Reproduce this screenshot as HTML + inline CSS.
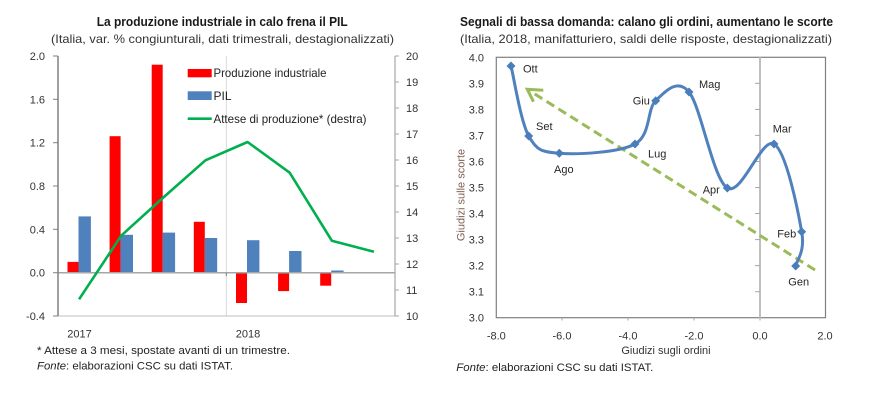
<!DOCTYPE html>
<html><head><meta charset="utf-8"><style>
html,body{margin:0;padding:0;background:#fff;}
svg{display:block;font-family:"Liberation Sans",Arial,sans-serif;}
</style></head><body>
<svg width="888" height="405" viewBox="0 0 888 405" xmlns="http://www.w3.org/2000/svg">
<rect width="888" height="405" fill="#fff"/>
<!-- LEFT CHART -->
<text x="96.7" y="26" font-size="13" font-weight="bold" fill="#1a1a1a" textLength="251" lengthAdjust="spacingAndGlyphs">La produzione industriale in calo frena il PIL</text>
<text x="51" y="43" font-size="12" fill="#333" textLength="343" lengthAdjust="spacingAndGlyphs">(Italia, var. % congiunturali, dati trimestrali, destagionalizzati)</text>
<!-- gridline 2018 -->
<line x1="226.3" y1="56" x2="226.3" y2="316" stroke="#d9d9d9" stroke-width="1"/>
<!-- bars red -->
<g fill="#ff0000">
<rect x="67.5" y="261.9" width="11" height="10.8"/>
<rect x="109.6" y="136.2" width="11" height="136.5"/>
<rect x="151.7" y="64.7" width="11" height="208"/>
<rect x="193.8" y="221.8" width="11" height="50.9"/>
<rect x="236" y="272.7" width="11" height="30.3"/>
<rect x="278.1" y="272.7" width="11" height="18.4"/>
<rect x="320.2" y="272.7" width="11" height="13"/>
</g>
<g fill="#4f81bd">
<rect x="78.5" y="216.4" width="12.4" height="56.3"/>
<rect x="120.6" y="234.8" width="12.4" height="37.9"/>
<rect x="162.7" y="232.6" width="12.4" height="40.1"/>
<rect x="204.8" y="238" width="12.4" height="34.7"/>
<rect x="247" y="240.2" width="12.4" height="32.5"/>
<rect x="289.1" y="251" width="12.4" height="21.7"/>
<rect x="331.2" y="270.5" width="12.4" height="2.2"/>
</g>
<!-- axes -->
<line x1="58" y1="272.7" x2="395" y2="272.7" stroke="#a6a6a6" stroke-width="1.5"/>
<line x1="226.3" y1="272.7" x2="226.3" y2="276" stroke="#808080" stroke-width="1"/>
<line x1="58" y1="316" x2="395" y2="316" stroke="#bfbfbf" stroke-width="1"/>
<line x1="58" y1="56" x2="58" y2="316" stroke="#808080" stroke-width="1.5"/>
<line x1="395" y1="56" x2="395" y2="316" stroke="#a6a6a6" stroke-width="1.2"/>
<g stroke="#808080" stroke-width="1">
<line x1="53" y1="56" x2="58" y2="56"/><line x1="53" y1="99.3" x2="58" y2="99.3"/><line x1="53" y1="142.7" x2="58" y2="142.7"/><line x1="53" y1="186" x2="58" y2="186"/><line x1="53" y1="229.3" x2="58" y2="229.3"/><line x1="53" y1="272.7" x2="58" y2="272.7"/><line x1="53" y1="316" x2="58" y2="316"/>
</g>
<g stroke="#a6a6a6" stroke-width="1">
<line x1="395" y1="56" x2="399" y2="56"/><line x1="395" y1="82" x2="399" y2="82"/><line x1="395" y1="108" x2="399" y2="108"/><line x1="395" y1="134" x2="399" y2="134"/><line x1="395" y1="160" x2="399" y2="160"/><line x1="395" y1="186" x2="399" y2="186"/><line x1="395" y1="212" x2="399" y2="212"/><line x1="395" y1="238" x2="399" y2="238"/><line x1="395" y1="264" x2="399" y2="264"/><line x1="395" y1="290" x2="399" y2="290"/><line x1="395" y1="316" x2="399" y2="316"/>
</g>
<!-- green line -->
<polyline points="79.06,299.3 121.19,235.7 163.31,197.5 205.44,160.3 247.56,142 289.69,172.7 331.81,240.7 373.94,251.7" fill="none" stroke="#00b050" stroke-width="2.6" stroke-linejoin="round"/>
<!-- left tick labels -->
<g font-size="11" fill="#333" text-anchor="end">
<text x="45" y="60">2.0</text><text x="45" y="103.3">1.6</text><text x="45" y="146.7">1.2</text><text x="45" y="190">0.8</text><text x="45" y="233.3">0.4</text><text x="45" y="276.7">0.0</text><text x="45" y="320">-0.4</text>
</g>
<g font-size="11" fill="#333">
<text x="406" y="60">20</text><text x="406" y="86">19</text><text x="406" y="112">18</text><text x="406" y="138">17</text><text x="406" y="164">16</text><text x="406" y="190">15</text><text x="406" y="216">14</text><text x="406" y="242">13</text><text x="406" y="268">12</text><text x="406" y="294">11</text><text x="406" y="320">10</text>
</g>
<g font-size="11" fill="#333" text-anchor="middle">
<text x="79.5" y="337.5">2017</text><text x="248" y="337.5">2018</text>
</g>
<!-- legend -->
<rect x="187.7" y="69" width="24" height="8.3" fill="#ff0000"/>
<text x="213.5" y="77" font-size="12" fill="#222" textLength="113" lengthAdjust="spacingAndGlyphs">Produzione  industriale</text>
<rect x="187.7" y="91.3" width="24" height="8.7" fill="#4f81bd"/>
<text x="213.5" y="100" font-size="12" fill="#222">PIL</text>
<line x1="187.7" y1="118.7" x2="211.7" y2="118.7" stroke="#00b050" stroke-width="2.6"/>
<text x="213.5" y="123" font-size="12" fill="#222" textLength="153" lengthAdjust="spacingAndGlyphs">Attese di produzione*  (destra)</text>
<!-- footnotes -->
<text x="37" y="354" font-size="11" fill="#222" textLength="253" lengthAdjust="spacingAndGlyphs">* Attese a 3 mesi, spostate avanti di un trimestre.</text>
<text x="37" y="369.3" font-size="11" fill="#222" textLength="196" lengthAdjust="spacingAndGlyphs"><tspan font-style="italic">Fonte</tspan>: elaborazioni  CSC su dati ISTAT.</text>

<!-- RIGHT CHART -->
<text x="460" y="26" font-size="13" font-weight="bold" fill="#1a1a1a" textLength="373" lengthAdjust="spacingAndGlyphs">Segnali di bassa domanda: calano gli ordini, aumentano le scorte</text>
<text x="460" y="43" font-size="12" fill="#333" textLength="372" lengthAdjust="spacingAndGlyphs">(Italia, 2018, manifatturiero, saldi delle risposte, destagionalizzati)</text>
<!-- frame -->
<rect x="496.3" y="57.3" width="329.2" height="260.4" fill="none" stroke="#808080" stroke-width="1.2"/>
<line x1="760" y1="57.3" x2="760" y2="317.7" stroke="#bfbfbf" stroke-width="2"/>
<g stroke="#a6a6a6" stroke-width="1">
<line x1="755" y1="83.3" x2="760" y2="83.3"/><line x1="755" y1="109.4" x2="760" y2="109.4"/><line x1="755" y1="135.4" x2="760" y2="135.4"/><line x1="755" y1="161.5" x2="760" y2="161.5"/><line x1="755" y1="187.5" x2="760" y2="187.5"/><line x1="755" y1="213.5" x2="760" y2="213.5"/><line x1="755" y1="239.6" x2="760" y2="239.6"/><line x1="755" y1="265.6" x2="760" y2="265.6"/><line x1="755" y1="291.7" x2="760" y2="291.7"/>
<line x1="562" y1="317.7" x2="562" y2="320.5"/><line x1="628" y1="317.7" x2="628" y2="320.5"/><line x1="694" y1="317.7" x2="694" y2="320.5"/><line x1="760" y1="317.7" x2="760" y2="320.5"/>
</g>
<!-- arrow -->
<line x1="815" y1="270" x2="530" y2="91" stroke="#9bbb59" stroke-width="3" stroke-dasharray="9,5"/>
<polyline points="543.3,90.3 527.3,89.3 533.5,101.7" fill="none" stroke="#9bbb59" stroke-width="3" stroke-linejoin="miter"/>
<!-- spline -->
<path d="M795.7,266 C796.7,260.28 805.32,252.03 801.7,231.7 C798.08,211.37 786.4,151.28 774,144 C761.6,136.72 741.47,196.67 727.3,188 C713.13,179.33 700.93,106.55 689,92 C677.07,77.45 664.7,92.03 655.7,100.7 C646.7,109.37 651.07,135.23 635,144 C618.93,152.77 577.02,154.63 559.3,153.3 C541.58,151.97 536.75,150.55 528.7,136 C520.65,121.45 513.95,77.67 511,66" fill="none" stroke="#4f81bd" stroke-width="3" stroke-linejoin="round"/>
<g fill="#4a7ebb">
<polygon points="795.7,261.5 800.2,266 795.7,270.5 791.2,266"/>
<polygon points="801.7,227.2 806.2,231.7 801.7,236.2 797.2,231.7"/>
<polygon points="774,139.5 778.5,144 774,148.5 769.5,144"/>
<polygon points="727.3,183.5 731.8,188 727.3,192.5 722.8,188"/>
<polygon points="689,87.5 693.5,92 689,96.5 684.5,92"/>
<polygon points="655.7,96.2 660.2,100.7 655.7,105.2 651.2,100.7"/>
<polygon points="635,139.5 639.5,144 635,148.5 630.5,144"/>
<polygon points="559.3,148.8 563.8,153.3 559.3,157.8 554.8,153.3"/>
<polygon points="528.7,131.5 533.2,136 528.7,140.5 524.2,136"/>
<polygon points="511,61.5 515.5,66 511,70.5 506.5,66"/>
</g>
<g font-size="11" fill="#262626">
<text x="523" y="72.5">Ott</text>
<text x="536" y="130">Set</text>
<text x="554" y="173">Ago</text>
<text x="648" y="157.7">Lug</text>
<text x="632.7" y="104.7">Giu</text>
<text x="699" y="88">Mag</text>
<text x="702.7" y="193.7">Apr</text>
<text x="772.7" y="132.7">Mar</text>
<text x="777.3" y="237.3">Feb</text>
<text x="788.3" y="285.7">Gen</text>
</g>
<g font-size="11" fill="#333" text-anchor="end">
<text x="484" y="61.3">4.0</text><text x="484" y="87.3">3.9</text><text x="484" y="113.4">3.8</text><text x="484" y="139.4">3.7</text><text x="484" y="165.5">3.6</text><text x="484" y="191.5">3.5</text><text x="484" y="217.5">3.4</text><text x="484" y="243.6">3.3</text><text x="484" y="269.6">3.2</text><text x="484" y="295.7">3.1</text><text x="484" y="321.7">3.0</text>
</g>
<g font-size="11" fill="#333" text-anchor="middle">
<text x="496.3" y="339.3">-8.0</text><text x="562" y="339.3">-6.0</text><text x="628" y="339.3">-4.0</text><text x="694" y="339.3">-2.0</text><text x="760" y="339.3">0.0</text><text x="825" y="339.3">2.0</text>
</g>
<text x="666" y="354" font-size="11" fill="#333" text-anchor="middle">Giudizi sugli ordini</text>
<text transform="translate(464.5,195) rotate(-90)" font-size="11" fill="#7f6050" text-anchor="middle">Giudizi sulle scorte</text>
<text x="456.3" y="371" font-size="11" fill="#222" textLength="197" lengthAdjust="spacingAndGlyphs"><tspan font-style="italic">Fonte</tspan>: elaborazioni  CSC su dati ISTAT.</text>
</svg>
</body></html>
